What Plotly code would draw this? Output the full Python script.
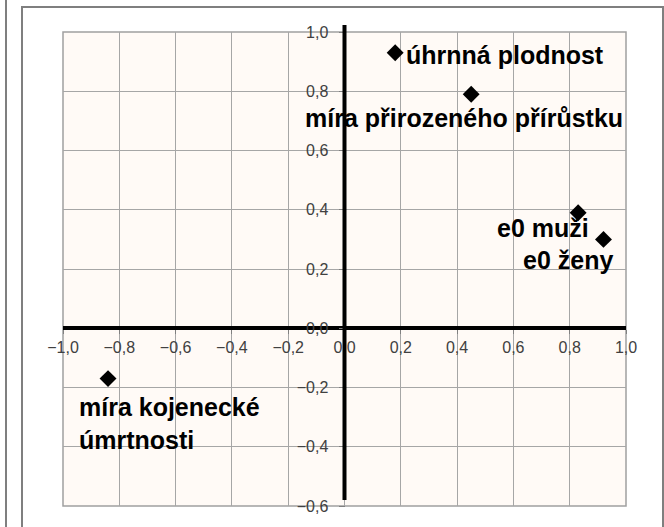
import plotly.graph_objects as go

names = ["úhrnná plodnost", "míra přirozeného přírůstku", "e0 muži", "e0 ženy",
         "míra kojenecké<br>úmrtnosti"]
x_vals = [0.18, 0.45, 0.83, 0.92, -0.84]
y_vals = [0.93, 0.79, 0.39, 0.30, -0.17]

x_ticks = [-1.0, -0.8, -0.6, -0.4, -0.2, 0.0, 0.2, 0.4, 0.6, 0.8, 1.0]
y_ticks = [-0.6, -0.4, -0.2, 0.0, 0.2, 0.4, 0.6, 0.8, 1.0]

W, H = 664, 527
L, R, T, B = 63, 626, 32, 506

fig = go.Figure()
fig.add_trace(go.Scatter(x=x_vals, y=y_vals, mode="markers",
                         marker=dict(symbol="diamond", size=13, color="black"),
                         hoverinfo="skip", showlegend=False))

# label placement: (xanchor, xshift, yshift, align)
place = [("left", 9, -2, "left"),
         ("center", -7, -24, "center"),
         ("right", 13, -15, "right"),
         ("right", 12, -21, "right"),
         ("left", -31, -45, "left")]
lab_font = dict(family="Liberation Sans, Arial", size=25, color="black", weight="bold")
for n, xv, yv, p in zip(names, x_vals, y_vals, place):
    fig.add_annotation(x=xv, y=yv, text=n, showarrow=False,
                       xanchor=p[0], yanchor="middle", xshift=p[1], yshift=p[2],
                       align=p[3], font=lab_font)

def px(xp):
    return (xp - L) / (R - L)

def py(yp):
    return (B - yp) / (B - T)

# outer frames
fig.add_shape(type="line", xref="paper", yref="paper", x0=px(6), x1=px(6), y0=py(-5), y1=py(H + 5),
              line=dict(color="#7f7f7f", width=2), layer="above")
fig.add_shape(type="rect", xref="paper", yref="paper", x0=px(22), x1=px(663), y0=py(7), y1=py(H + 5),
              line=dict(color="#7f7f7f", width=2), layer="above")
# plot border
fig.add_shape(type="rect", xref="paper", yref="paper", x0=0, x1=1, y0=0, y1=1,
              line=dict(color="#a0a0a0", width=1.5), layer="below")
# thick vertical axis line at x = 0
fig.add_shape(type="line", xref="x", yref="paper", x0=0, x1=0, y0=py(500), y1=py(25),
              line=dict(color="black", width=4), layer="above")

fig.update_layout(
    width=W, height=H,
    margin=dict(l=L, r=W - R, t=T, b=H - B),
    paper_bgcolor="white", plot_bgcolor="#fffaf6",
    separators=", ",
    font=dict(family="Liberation Sans, Arial", size=16, color="#404040"),
    xaxis=dict(range=[-1, 1], tickvals=x_ticks, tickformat=".1f",
               showgrid=True, gridcolor="#a6a6a6", gridwidth=1, zeroline=False,
               showline=True, linecolor="black", linewidth=4,
               anchor="free", position=0.375,
               ticks="outside", ticklen=4, tickcolor="#808080"),
    yaxis=dict(range=[-0.6, 1.0], tickvals=y_ticks, tickformat=".1f",
               showgrid=True, gridcolor="#a6a6a6", gridwidth=1, zeroline=False,
               showline=False,
               anchor="free", position=0.5,
               ticks="outside", ticklen=6, tickcolor="#808080",
               ticklabelstandoff=7),
)

fig.write_html("out.html", config={"displayModeBar": False},
               post_script="document.body.style.margin='0';")
